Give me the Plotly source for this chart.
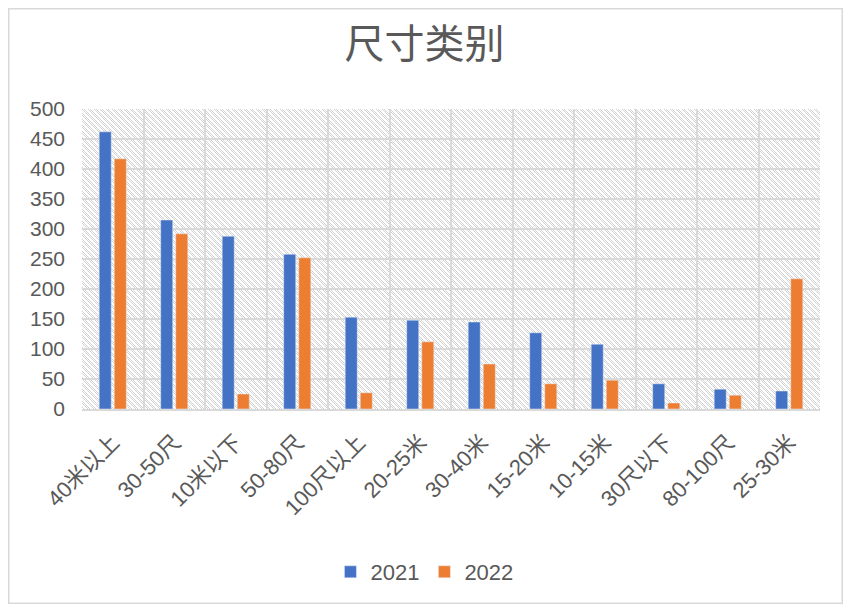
import base64
import plotly.graph_objects as go

categories = ["40米以上", "30-50尺", "10米以下", "50-80尺", "100尺以上", "20-25米",
              "30-40米", "15-20米", "10-15米", "30尺以下", "80-100尺", "25-30米"]
values_2021 = [462, 315, 288, 258, 153, 148, 145, 127, 108, 42, 33, 30]
values_2022 = [417, 292, 25, 252, 27, 112, 75, 42, 48, 10, 23, 217]
y_ticks = [0, 50, 100, 150, 200, 250, 300, 350, 400, 450, 500]

# page has an 8px body margin, so the figure is sized to fit inside the window
W, H = 835, 596
L, T, PW, PH = 74, 101, 738, 300
R, B = W - L - PW, H - T - PH

dots = "".join(
    f'<rect x="{x}" y="{y}" width="1" height="1" fill="#d2d2d2"/>'
    for x in range(6) for y in range(6) if (x - y) % 6 in (0, 2)
)
svg = f'''<svg xmlns="http://www.w3.org/2000/svg" width="{PW}" height="{PH}" viewBox="0 0 {PW} {PH}" preserveAspectRatio="none" shape-rendering="crispEdges">
<defs><pattern id="p" width="6" height="6" patternUnits="userSpaceOnUse">
<rect width="6" height="6" fill="white"/>{dots}
</pattern></defs>
<rect width="{PW}" height="{PH}" fill="url(#p)"/></svg>'''
img_src = "data:image/svg+xml;base64," + base64.b64encode(svg.encode()).decode()

font_family = "Liberation Sans, Noto Sans CJK SC, sans-serif"
txt = "#595959"
grid = "#d9d9d9"

fig = go.Figure()
fig.add_trace(go.Bar(name="2021", x=categories, y=values_2021, marker_color="#4472C4"))
fig.add_trace(go.Bar(name="2022", x=categories, y=values_2022, marker_color="#ED7D31"))

fig.update_layout(
    width=W, height=H,
    margin=dict(l=L, r=R, t=T, b=B, autoexpand=False),
    paper_bgcolor="white",
    plot_bgcolor="rgba(0,0,0,0)",
    font=dict(family=font_family, color=txt, size=21),
    title=dict(text="尺寸类别", x=416.5 / W, xanchor="center", y=1 - 36 / H, yanchor="middle",
               font=dict(size=40, color=txt, family=font_family)),
    barmode="group", bargap=0.51, bargroupgap=0.2,
    legend=dict(orientation="h", x=0.464, xanchor="center", y=(T + PH - 564) / PH, yanchor="middle",
                font=dict(size=22, color=txt), itemwidth=30),
    images=[dict(source=img_src, xref="paper", yref="paper", x=0, y=1, sizex=1, sizey=1,
                 sizing="stretch", layer="below")],
    shapes=[dict(type="rect", xref="paper", yref="paper",
                 x0=(0.75 - L) / PW, x1=(W - 0.75 - L) / PW,
                 y0=(T + PH - (H - 0.75)) / PH, y1=(T + PH - 0.75) / PH,
                 line=dict(color=grid, width=1.5), fillcolor="rgba(0,0,0,0)", layer="below")],
)
fig.update_xaxes(tickangle=-45, tickson="boundaries", showgrid=True, gridcolor=grid, gridwidth=1.5,
                 showline=True, linecolor=grid, linewidth=1.5, ticks="", ticklabelstandoff=10,
                 tickfont=dict(size=22, color=txt), automargin=False)
fig.update_yaxes(range=[0, 500], tickvals=y_ticks, showgrid=True, gridcolor=grid, gridwidth=1.5,
                 zeroline=False, ticks="", ticklabelstandoff=16, tickfont=dict(size=21, color=txt),
                 automargin=False)

fig.write_html("out.html")
